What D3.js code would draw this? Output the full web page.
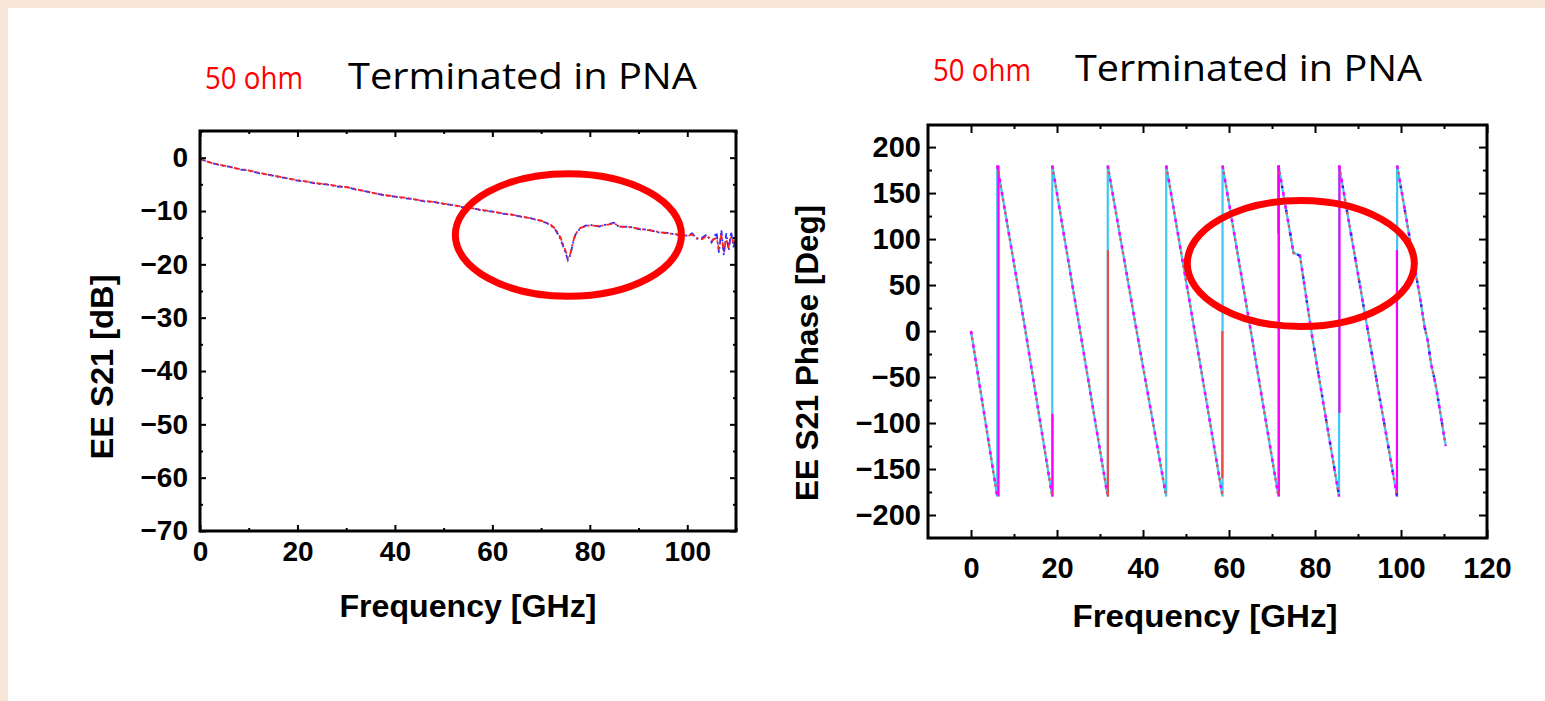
<!DOCTYPE html>
<html>
<head>
<meta charset="utf-8">
<script src="https://cdnjs.cloudflare.com/ajax/libs/d3/7.8.5/d3.min.js"></script>
<style>
html, body { margin: 0; padding: 0; background: #f8e6d8; }
svg { display: block; }
</style>
</head>
<body>
<svg id="chart" width="1545" height="701"></svg>
<script>
// ---- left panel: EE S21 magnitude [dB] ----
const s21Freq = [0, 2, 4, 6, 8, 10, 12, 14, 16, 18, 20, 22, 24, 26, 28, 30, 32, 34, 36, 38, 40,
  42, 44, 46, 48, 50, 52, 54, 56, 58, 60, 62, 64, 66, 68, 70, 71, 72, 73, 74, 75, 75.5, 76, 76.5,
  77, 78, 79, 80, 82, 84, 85, 86, 88, 90, 92, 94, 96, 98, 100, 101, 102, 103, 104, 105, 106,
  106.5, 107, 107.5, 108, 108.5, 109, 109.5, 110];
const s21Red = [-0.3, -0.9, -1.3, -1.7, -2.1, -2.4, -2.8, -3.2, -3.5, -3.9, -4.2, -4.5, -4.8, -5.0,
  -5.3, -5.5, -5.9, -6.3, -6.7, -7.0, -7.3, -7.5, -7.8, -8.1, -8.3, -8.6, -8.9, -9.2, -9.5, -9.8,
  -10.1, -10.4, -10.7, -11.0, -11.4, -11.8, -12.1, -12.6, -13.4, -15.0, -17.4, -18.8, -18.0, -16.0,
  -14.4, -13.2, -12.9, -12.7, -12.8, -12.5, -12.3, -12.9, -13.0, -13.3, -13.6, -13.9, -14.2, -14.4,
  -14.7, -14.4, -15.1, -15.3, -14.6, -15.6, -15.0, -17.2, -14.3, -17.6, -15.3, -16.6, -14.8, -15.9, -15.5];
const s21Blue = [-0.2, -0.9, -1.4, -1.7, -2.2, -2.4, -2.9, -3.2, -3.6, -3.9, -4.3, -4.5, -4.9, -5.0,
  -5.4, -5.5, -6.0, -6.3, -6.7, -7.1, -7.3, -7.6, -7.8, -8.2, -8.3, -8.7, -8.9, -9.3, -9.5, -9.9,
  -10.1, -10.5, -10.7, -11.1, -11.4, -11.9, -12.2, -12.7, -13.6, -15.3, -17.8, -19.2, -18.3, -16.2,
  -14.5, -13.3, -12.8, -12.6, -12.9, -12.4, -12.2, -13.0, -12.9, -13.4, -13.5, -14.0, -14.1, -14.5,
  -14.6, -14.2, -15.2, -15.0, -14.4, -15.9, -14.0, -17.8, -13.6, -18.3, -14.2, -17.4, -13.9, -16.8, -15.2];

// ---- right panel: EE S21 phase [deg] ----
const phaseFreq = [0, 3, 6.1, 6.1, 12.5, 18.9, 18.9, 25.3, 31.8, 31.8, 38.6, 45.4, 45.4, 52.0, 58.5,
  58.5, 65.0, 71.5, 71.5, 75.0, 76.5, 79.4, 85.6, 85.6, 92.3, 99.1, 99.1, 104.5, 105.5, 106.2, 107.0,
  107.6, 108.2, 110.4];
const phaseDeg = [0, -88, -180, 180, 5, -180, 180, 2, -180, 180, -2, -180, 180, 0, -180,
  180, 2, -180, 180, 85, 82, -8, -180, 180, 0, -180, 180, 34, 4, -10, -36,
  -48, -62, -125];

// wrap jumps of the overlaid traces (some only partly drawn)
const magJumpFreq = [6.4, 18.95, 71.6, 85.7, 99.05];
const magJumpFrom = [-180, -180, -180, -89, -180];
const magJumpTo = [180, -90, 180, 180, 88];
const redJumpFreq = [31.85, 58.45, 71.45];
const redJumpFrom = [-180, -160, 106];
const redJumpTo = [88, 0, 180];

// ticks
const leftXTicks = [0, 20, 40, 60, 80, 100];
const leftXMinor = [10, 30, 50, 70, 90, 110];
const leftYTicks = [0, -10, -20, -30, -40, -50, -60, -70];
const leftYMinor = [5, -5, -15, -25, -35, -45, -55, -65];
const rightXTicks = [0, 20, 40, 60, 80, 100, 120];
const rightXMinor = [10, 30, 50, 70, 90, 110];
const rightYTicks = [200, 150, 100, 50, 0, -50, -100, -150, -200];
const rightYMinor = [175, 125, 75, 25, -25, -75, -125, -175];

// annotation rings: [centre f, centre value, half width f, half height value]
const ringLeft = [75.6, -14.5, 23.2, 11.5];
const ringRight = [76.7, 73.4, 26.4, 68.5];

const svg = d3.select("#chart");
svg.append("rect").attr("x", 8).attr("y", 8).attr("width", 1537).attr("height", 693).attr("fill", "#fff");

const LB = {x0: 200, x1: 736, y0: 131, y1: 531};
const RB = {x0: 928, x1: 1487, y0: 125, y1: 538};

const xL = d3.scaleLinear().domain([0, 110]).range([LB.x0, LB.x1]);
const yL = d3.scaleLinear().domain([-70, 5]).range([LB.y1, LB.y0]);
const xR = d3.scaleLinear().domain([-10, 120]).range([RB.x0, RB.x1]);
const yR = d3.scaleLinear().domain([-225, 224]).range([RB.y1, RB.y0]);

const BOLD = "'Liberation Sans', Arial, sans-serif";

function side(make, scale, pos, major, minor, label, cfg) {
    const gMin = svg.append("g").attr("transform", pos)
        .call(make(scale).tickValues(minor).tickSize(-cfg.minorLen).tickFormat(""));
    const gMaj = svg.append("g").attr("transform", pos)
        .call(make(scale).tickValues(major).tickSize(-cfg.majorLen).tickPadding(cfg.pad)
            .tickFormat(label ? d3.format("d") : ""));
    [gMin, gMaj].forEach(g => {
        g.select(".domain").remove();
        g.selectAll("line").attr("stroke", "#000").attr("stroke-width", 2);
    });
    gMaj.attr("font-family", BOLD).attr("font-weight", "bold").attr("font-size", cfg.fontSize);
    gMaj.selectAll("text").attr("fill", "#000");
}

function panel(box, x, y, t, cfg) {
    side(d3.axisBottom, x, `translate(0,${box.y1})`, t.xMajor, t.xMinor, true, {...cfg, pad: cfg.padX});
    side(d3.axisTop, x, `translate(0,${box.y0})`, t.xMajor, t.xMinor, false, cfg);
    side(d3.axisLeft, y, `translate(${box.x0},0)`, t.yMajor, t.yMinor, true, {...cfg, pad: cfg.padY});
    side(d3.axisRight, y, `translate(${box.x1},0)`, t.yMajor, t.yMinor, false, cfg);
    svg.append("rect")
        .attr("x", box.x0).attr("y", box.y0)
        .attr("width", box.x1 - box.x0).attr("height", box.y1 - box.y0)
        .attr("fill", "none").attr("stroke", "#000").attr("stroke-width", 3);
}

function label(x, y, txt, size, width, rotate) {
    const t = svg.append("text")
        .attr("transform", `translate(${x},${y})` + (rotate ? " rotate(-90)" : ""))
        .attr("text-anchor", "middle")
        .attr("font-family", BOLD).attr("font-weight", "bold").attr("font-size", size)
        .attr("fill", "#000").text(txt);
    if (width) t.attr("textLength", width).attr("lengthAdjust", "spacingAndGlyphs");
}

function title(x, y, txt, size, width, color) {
    svg.append("text").attr("x", x).attr("y", y)
        .attr("font-family", "'Open Sans', 'Noto Sans', sans-serif").attr("font-size", size)
        .attr("fill", color).attr("textLength", width).attr("lengthAdjust", "spacingAndGlyphs")
        .text(txt);
}

// ---------- left panel ----------
svg.append("clipPath").attr("id", "clipL").append("rect")
    .attr("x", LB.x0).attr("y", LB.y0).attr("width", LB.x1 - LB.x0).attr("height", LB.y1 - LB.y0);

const lineL = d3.line().x(d => xL(d[0])).y(d => yL(d[1]));
const gL = svg.append("g").attr("clip-path", "url(#clipL)");
gL.append("path").datum(s21Freq.map((f, i) => [f, s21Blue[i]]))
    .attr("d", lineL).attr("fill", "none").attr("stroke", "#2b2bff").attr("stroke-width", 1.8)
    .attr("stroke-dasharray", "6,3,2,3");
gL.append("path").datum(s21Freq.map((f, i) => [f, s21Red[i]]))
    .attr("d", lineL).attr("fill", "none").attr("stroke", "#ff2020").attr("stroke-width", 1.8)
    .attr("stroke-dasharray", "6,3,2,3").attr("stroke-dashoffset", 7);

panel(LB, xL, yL, {xMajor: leftXTicks, xMinor: leftXMinor, yMajor: leftYTicks, yMinor: leftYMinor},
    {majorLen: 6, minorLen: 3, padX: 10, padY: 12, fontSize: 28});

label(468, 617, "Frequency [GHz]", 32, 257, false);
label(113, 367, "EE S21 [dB]", 32, 185, true);

svg.append("ellipse")
    .attr("cx", xL(ringLeft[0])).attr("cy", yL(ringLeft[1]))
    .attr("rx", xL(ringLeft[0] + ringLeft[2]) - xL(ringLeft[0]))
    .attr("ry", yL(ringLeft[1] - ringLeft[3]) - yL(ringLeft[1]))
    .attr("fill", "none").attr("stroke", "#ff0000").attr("stroke-width", 7);

title(205, 89, "50 ohm", 31, 98, "#ff0000");
title(348, 89, "Terminated in PNA", 37, 349, "#000");

// ---------- right panel ----------
const phasePts = phaseFreq.map((f, i) => [f, phaseDeg[i]]);
// split the trace at its wraps so dashed overlays only follow the slopes
const slopes = [];
let cur = [phasePts[0]];
for (let i = 1; i < phasePts.length; i++) {
    if (Math.abs(phasePts[i][1] - phasePts[i - 1][1]) > 200) { slopes.push(cur); cur = []; }
    cur.push(phasePts[i]);
}
slopes.push(cur);

const lineR = d3.line().x(d => xR(d[0])).y(d => yR(d[1]));
const gR = svg.append("g");

gR.append("path").datum(phasePts).attr("d", lineR)
    .attr("fill", "none").attr("stroke", "#3fc6f2").attr("stroke-width", 2.2);

function jumps(freq, from, to, color) {
    gR.selectAll(null).data(freq).join("line")
        .attr("x1", d => xR(d)).attr("x2", d => xR(d))
        .attr("y1", (d, i) => yR(from[i])).attr("y2", (d, i) => yR(to[i]))
        .attr("stroke", color).attr("stroke-width", 2.2);
}
jumps(redJumpFreq, redJumpFrom, redJumpTo, "#ee4a4a");
jumps(magJumpFreq, magJumpFrom, magJumpTo, "#ff00ff");

gR.selectAll("path.mag").data(slopes).join("path").attr("class", "mag")
    .attr("d", lineR).attr("fill", "none").attr("stroke", "#ff00ff").attr("stroke-width", 2.6)
    .attr("stroke-dasharray", "3.5,10");
gR.selectAll("path.red").data(slopes).join("path").attr("class", "red")
    .attr("d", lineR).attr("fill", "none").attr("stroke", "#ee4a4a").attr("stroke-width", 2.4)
    .attr("stroke-dasharray", "2.5,11").attr("stroke-dashoffset", 7);
gR.selectAll("path.blue").data(slopes.filter(s => s[0][0] >= 71.5)).join("path").attr("class", "blue")
    .attr("d", lineR).attr("fill", "none").attr("stroke", "#2020ff").attr("stroke-width", 2.4)
    .attr("stroke-dasharray", "2,22").attr("stroke-dashoffset", 3);

panel(RB, xR, yR, {xMajor: rightXTicks, xMinor: rightXMinor, yMajor: rightYTicks, yMinor: rightYMinor},
    {majorLen: 8, minorLen: 4, padX: 19, padY: 7, fontSize: 29});

label(1205, 627, "Frequency [GHz]", 31, 265, false);
label(818, 353, "EE S21 Phase [Deg]", 32, 296, true);

svg.append("ellipse")
    .attr("cx", xR(ringRight[0])).attr("cy", yR(ringRight[1]))
    .attr("rx", xR(ringRight[0] + ringRight[2]) - xR(ringRight[0]))
    .attr("ry", yR(ringRight[1] - ringRight[3]) - yR(ringRight[1]))
    .attr("fill", "none").attr("stroke", "#ff0000").attr("stroke-width", 7);

title(933, 81, "50 ohm", 31, 98, "#ff0000");
title(1075, 81, "Terminated in PNA", 37, 347, "#000");
</script>
</body>
</html>
